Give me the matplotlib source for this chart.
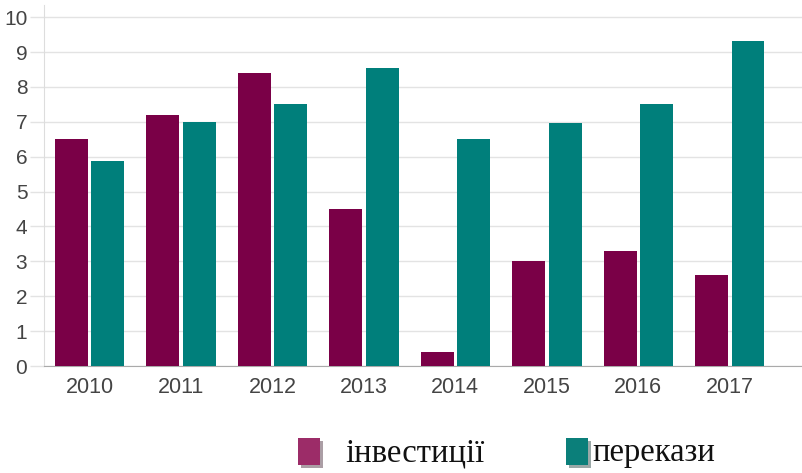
import matplotlib.pyplot as plt
import numpy as np
from matplotlib.patches import Rectangle
from matplotlib import patheffects as pe

# data
years = ['2010', '2011', '2012', '2013', '2014', '2015', '2016', '2017']
investments = [6.5, 7.2, 8.4, 4.5, 0.4, 3.0, 3.3, 2.6]
remittances = [5.87, 7.0, 7.52, 8.55, 6.5, 6.97, 7.52, 9.33]
series_names = ['інвестиції', 'перекази']

bar_colors = ['#7a0047', '#007f7b']
legend_colors = ['#9c2c68', '#0b7f7a']

plt.rcParams['font.family'] = ['Liberation Sans', 'DejaVu Sans']

fig = plt.figure(figsize=(8.02, 4.73), dpi=100)
ax = fig.add_axes([44 / 802, 1 - 366 / 473, 1 - 44 / 802, 361 / 473])

x = np.arange(len(years))
w = 0.36
ax.bar(x - 0.198, investments, width=w, color=bar_colors[0], zorder=3)
ax.bar(x + 0.2, remittances, width=w, color=bar_colors[1], zorder=3)

ax.set_xlim(-0.497, 7.79)
ax.set_ylim(0, 10.35)
ax.set_yticks(range(0, 11))
ax.set_xticks(x)
ax.set_xticklabels(years)

ax.grid(axis='y', color='#e3e3e3', linewidth=1, zorder=0)
for side in ['top', 'right']:
    ax.spines[side].set_visible(False)
ax.spines['left'].set_color('#dddddd')
ax.spines['bottom'].set_color('#aaaaaa')
ax.tick_params(axis='y', length=10, width=1, color='#e3e3e3', pad=2,
               labelsize=15, labelcolor='#444444')
ax.tick_params(axis='x', length=0, pad=8, labelsize=15.5, labelcolor='#444444')

# legend drawn by hand: squares with a soft shadow, serif labels
handle_x = [298, 566]
text_x = [345, 592]
for i, name in enumerate(series_names):
    r = Rectangle((handle_x[i] / 802, 1 - 465 / 473), 22 / 802, 27 / 473,
                  transform=fig.transFigure, facecolor=legend_colors[i],
                  edgecolor='none',
                  path_effects=[pe.SimplePatchShadow(offset=(2, -2), alpha=0.4),
                                pe.Normal()])
    fig.add_artist(r)
    fig.text(text_x[i] / 802, 1 - 453 / 473, name, fontsize=23.5,
             family=['Liberation Serif', 'DejaVu Serif'], color='#111111',
             va='center', ha='left')

fig.savefig('out.png', dpi=100)
